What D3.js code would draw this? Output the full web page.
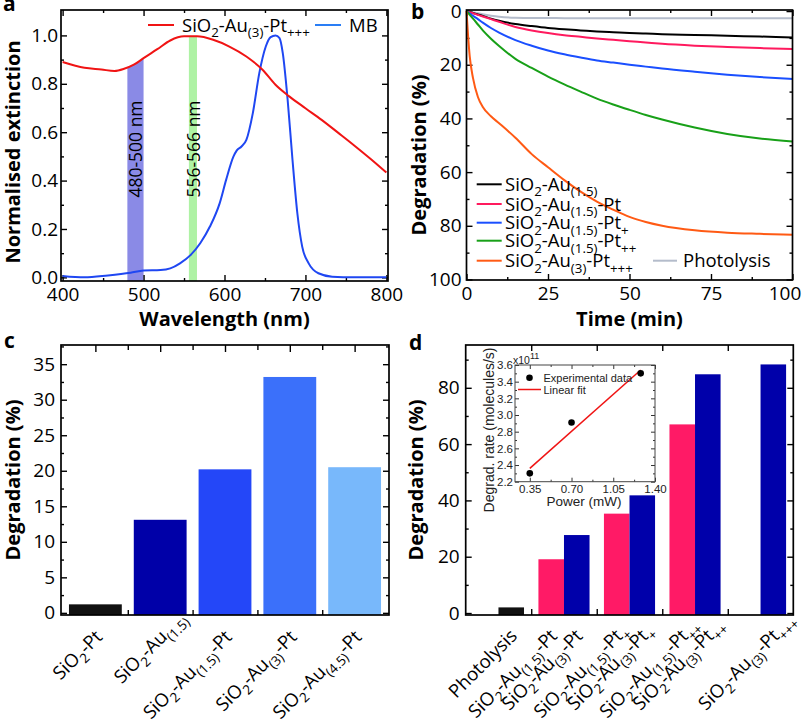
<!DOCTYPE html>
<html><head><meta charset="utf-8">
<script src="https://cdn.jsdelivr.net/npm/d3@7/dist/d3.min.js"></script>
<style>html,body{margin:0;padding:0;background:#fff;} svg{display:block;}</style>
</head><body>
<svg id="chart" width="805" height="721"></svg>
<script>
// ---------------- Panel a data ----------------
const aPtNm  = [400,427,448,464,476,488,500,517,533,550,566,586,606,627,647,663,680,700,720,741,761,781,800];
const aPtExt = [0.890,0.866,0.859,0.853,0.862,0.879,0.906,0.943,0.979,0.996,0.996,0.982,0.954,0.913,0.858,0.796,0.748,0.699,0.651,0.596,0.543,0.488,0.433];
const aMBNm  = [400,427,456,484,500,521,533,545,558,570,582,594,602,611,615,621,627,635,643,651,657,663,668,672,678,684,690,696,704,716,733,760,800];
const aMBExt = [0.006,0.0,0.008,0.019,0.028,0.030,0.037,0.058,0.092,0.141,0.210,0.306,0.403,0.499,0.524,0.541,0.568,0.679,0.844,0.954,0.993,1.0,0.989,0.927,0.734,0.486,0.265,0.127,0.058,0.017,0.003,0.0,0.0];
const aBandStart = [480, 556];
const aBandEnd   = [500, 566];
const aBandLabels = ["480-500 nm", "556-566 nm"];
const aLegend = ["SiO_{2}-Au_{(3)}-Pt_{+++}", "MB"];
const aXTicks = [400, 500, 600, 700, 800];
const aYTicks = [0, 0.2, 0.4, 0.6, 0.8, 1.0];

// ---------------- Panel b data ----------------
const bTime       = [0,0.5,1,2,3.5,5,7.5,10,15,20,25,30,35,40,45,50,55,60,70,80,90,100];
const bAu15       = [0,0.18,0.36,0.72,1.25,1.8,2.8,3.6,4.8,5.6,6.3,6.8,7.2,7.6,7.9,8.2,8.4,8.6,8.9,9.2,9.5,9.8];
const bAu15Pt     = [0,0.2,0.4,0.8,1.4,2.0,3.0,4.0,5.9,7.2,8.2,9.0,9.6,10.2,10.7,11.2,11.7,12.2,12.9,13.4,13.8,14.1];
const bAu15Pt1    = [0,0.45,0.9,1.8,3.0,4.3,6.3,8.0,10.8,12.9,14.7,16.1,17.3,18.4,19.2,20.0,20.7,21.4,22.6,23.7,24.6,25.3];
const bAu15Pt2    = [0,0.7,1.4,2.8,5.0,7.2,10.3,13.0,17.8,21.2,24.4,27.3,30.0,32.6,34.8,36.8,38.7,40.4,43.4,45.8,47.5,48.6];
const bAu3Pt3     = [0,9.5,17,25,32,35.7,39.2,41.8,47.2,53.3,58.2,63.0,67.3,71.0,74.0,76.7,78.6,80.0,81.7,82.6,83.0,83.3];
const bPhotolysis = [0,0.12,0.24,0.48,0.85,1.2,1.7,2.1,2.5,2.6,2.6,2.65,2.65,2.7,2.7,2.7,2.7,2.7,2.7,2.7,2.7,2.7];
const bSeriesLabels = ["SiO_{2}-Au_{(1.5)}", "SiO_{2}-Au_{(1.5)}-Pt", "SiO_{2}-Au_{(1.5)}-Pt_{+}", "SiO_{2}-Au_{(1.5)}-Pt_{++}", "SiO_{2}-Au_{(3)}-Pt_{+++}", "Photolysis"];
const bXTicks = [0, 25, 50, 75, 100];
const bYTicks = [0, 20, 40, 60, 80, 100];

// ---------------- Panel c data ----------------
const cCategories = ["SiO_{2}-Pt", "SiO_{2}-Au_{(1.5)}", "SiO_{2}-Au_{(1.5)}-Pt", "SiO_{2}-Au_{(3)}-Pt", "SiO_{2}-Au_{(4.5)}-Pt"];
const cValues = [1.2, 13.1, 20.2, 33.2, 20.5];
const cYTicks = [0, 5, 10, 15, 20, 25, 30, 35];

// ---------------- Panel d data ----------------
const dCategories = ["Photolysis", "SiO_{2}-Au_{(1.5)}-Pt", "SiO_{2}-Au_{(3)}-Pt", "SiO_{2}-Au_{(1.5)}-Pt_{+}", "SiO_{2}-Au_{(3)}-Pt_{+}", "SiO_{2}-Au_{(1.5)}-Pt_{++}", "SiO_{2}-Au_{(3)}-Pt_{++}", "SiO_{2}-Au_{(3)}-Pt_{+++}"];
const dGroups = ["g1", "g2", "g2", "g3", "g3", "g4", "g4", "g5"];
const dSeries = ["control", "Au1.5", "Au3", "Au1.5", "Au3", "Au1.5", "Au3", "Au3"];
const dValues = [2.0, 19.1, 27.7, 35.3, 41.8, 67.0, 84.8, 88.3];
const dYTicks = [0, 20, 40, 60, 80];

// ---------------- Inset data ----------------
const insetPower = [0.35, 0.70, 1.28];
const insetRate  = [2.30, 2.91, 3.50];
const insetFitPower = [0.35, 1.28];
const insetFitRate  = [2.36, 3.54];
const insetXTicks = [0.35, 0.70, 1.05, 1.40];
const insetYTicks = [2.2, 2.4, 2.6, 2.8, 3.0, 3.2, 3.4, 3.6];

// ---------------- styling ----------------
const FONT = "'Open Sans', sans-serif";
const ARIAL = "'Liberation Sans', Arial, sans-serif";
const TICK_FS = 19, TITLE_FS = 20, LEG_FS = 18.5, CAT_FS = 18.5, SUB = 0.72;
const svg = d3.select("#chart").attr("font-family", FONT);

function richText(t, markup, fs) {
  const re = /_\{([^}]*)\}|([^_]+)/g;
  let m, down = false; const sh = fs * 0.3;
  while ((m = re.exec(markup)) !== null) {
    const s = t.append("tspan");
    if (m[1] !== undefined) {
      s.text(m[1]).attr("font-size", fs * SUB).attr("class", "sub");
      if (!down) { s.attr("dy", sh); down = true; }
    } else {
      s.text(m[2]);
      if (down) { s.attr("dy", -sh); down = false; }
    }
  }
  return t;
}
function label(g, x, y, markup, fs) {
  const t = g.append("text").attr("x", x).attr("y", y).attr("font-size", fs).attr("fill", "#000");
  return richText(t, markup, fs);
}
function rotLabel(g, ax, ay, markup, fs) {
  const t = g.append("text").attr("font-size", fs).attr("text-anchor", "end").attr("fill", "#000");
  richText(t, markup, fs);
  const nodes = t.selectAll("tspan").nodes();
  const last = nodes[nodes.length - 1];
  let shift = 0;
  if (last && last.getAttribute("class") === "sub") shift = last.getComputedTextLength();
  t.attr("transform", `translate(${ax},${ay}) rotate(-45) translate(${shift},0)`);
}
function axis(g, fn, sc, vals, len, fmt, tr, pad, fs, cfg) {
  const a = fn(sc).tickValues(vals).tickSize(-len).tickPadding(pad).tickFormat(fmt || (() => ""));
  const gg = g.append("g").attr("transform", tr).call(a);
  gg.select(".domain").remove();
  gg.attr("font-family", null).attr("font-size", null);
  gg.selectAll(".tick line").attr("stroke", cfg.color || "#000").attr("stroke-width", cfg.tw || 1.4);
  gg.selectAll(".tick text").attr("font-size", fs).attr("fill", cfg.textColor || "#000");
  if (cfg.font) gg.attr("font-family", cfg.font);
  return gg;
}
function frame(g, x0, x1, y0, y1, cfg) {
  g.append("rect").attr("x", x0).attr("y", y1).attr("width", x1 - x0).attr("height", y0 - y1)
    .attr("fill", "none").attr("stroke", cfg.color || "#000").attr("stroke-width", cfg.fw || 1.7);
}
const mids = arr => d3.pairs(arr, (p, q) => (p + q) / 2);

// ================= Panel a =================
(function () {
  const g = svg.append("g");
  const x = d3.scaleLinear([398, 802], [61, 388]);
  const y = d3.scaleLinear([-0.015, 1.105], [281, 10]);
  const [X0, X1] = x.range(), [Y0, Y1] = y.range();
  const ptData = aPtNm.map((d, i) => [d, aPtExt[i]]);
  const mbData = aMBNm.map((d, i) => [d, aMBExt[i]]);

  const area = d3.area().x(d => x(d[0])).y0(Y0).y1(d => y(d[1])).curve(d3.curveMonotoneX);
  svg.append("defs").append("clipPath").attr("id", "underPt").append("path").attr("d", area(ptData));
  const bandColors = ["#8a8ae6", "#aef2a4"];
  const bands = g.append("g").attr("clip-path", "url(#underPt)");
  bands.selectAll("rect").data(aBandStart).join("rect")
    .attr("x", (d) => x(d)).attr("width", (d, i) => x(aBandEnd[i]) - x(d))
    .attr("y", Y1).attr("height", Y0 - Y1).attr("fill", (d, i) => bandColors[i]);

  const cfg = {};
  axis(g, d3.axisBottom, x, aXTicks, 6, d3.format("d"), `translate(0,${Y0})`, 7, TICK_FS, cfg);
  axis(g, d3.axisBottom, x, mids(aXTicks), 3, null, `translate(0,${Y0})`, 7, TICK_FS, cfg);
  axis(g, d3.axisTop, x, aXTicks, 6, null, `translate(0,${Y1})`, 7, TICK_FS, cfg);
  axis(g, d3.axisTop, x, mids(aXTicks), 3, null, `translate(0,${Y1})`, 7, TICK_FS, cfg);
  axis(g, d3.axisLeft, y, aYTicks, 6, d3.format(".1f"), `translate(${X0},0)`, 3, TICK_FS, cfg);
  axis(g, d3.axisLeft, y, mids(aYTicks), 3, null, `translate(${X0},0)`, 3, TICK_FS, cfg);
  axis(g, d3.axisRight, y, aYTicks, 6, null, `translate(${X1},0)`, 3, TICK_FS, cfg);
  axis(g, d3.axisRight, y, mids(aYTicks), 3, null, `translate(${X1},0)`, 3, TICK_FS, cfg);

  aBandLabels.forEach((txt, i) => {
    const cx = x((aBandStart[i] + aBandEnd[i]) / 2);
    g.append("text").attr("transform", `translate(${cx},149) rotate(-90)`)
      .attr("text-anchor", "middle").attr("dominant-baseline", "central")
      .attr("font-size", 17.5).attr("fill", "#000").text(txt);
  });

  const line = d3.line().x(d => x(d[0])).y(d => y(d[1])).curve(d3.curveMonotoneX);
  g.append("path").attr("d", line(mbData)).attr("fill", "none").attr("stroke", "#1f47f2").attr("stroke-width", 2);
  g.append("path").attr("d", line(ptData)).attr("fill", "none").attr("stroke", "#f01414").attr("stroke-width", 2);

  // legend
  const lc = ["#f01414", "#2a7ef5"], lx = [148, 315];
  aLegend.forEach((t, i) => {
    g.append("line").attr("x1", lx[i]).attr("x2", lx[i] + 26).attr("y1", 25).attr("y2", 25).attr("stroke", lc[i]).attr("stroke-width", 2);
    label(g, lx[i] + 34, 31.5, t, LEG_FS);
  });

  frame(g, X0, X1, Y0, Y1, {});
  g.append("text").attr("x", (X0 + X1) / 2).attr("y", 326).attr("text-anchor", "middle")
    .attr("font-size", TITLE_FS).attr("font-weight", "bold").text("Wavelength (nm)");
  g.append("text").attr("transform", "translate(12,152) rotate(-90)").attr("text-anchor", "middle")
    .attr("dominant-baseline", "central").attr("font-size", TITLE_FS).attr("font-weight", "bold").text("Normalised extinction");
  g.append("text").attr("x", 3).attr("y", 11).attr("font-size", 21).attr("font-weight", "bold").text("a");
})();

// ================= Panel b =================
(function () {
  const g = svg.append("g");
  const x = d3.scaleLinear([0, 100], [466.5, 792.5]);
  const y = d3.scaleLinear([-0.4, 100.2], [10, 280]);
  const X0 = 466.5, X1 = 792.5, Y0 = 280, Y1 = 10;
  const cfg = {};
  const bx = axis(g, d3.axisBottom, x, bXTicks, 6, d3.format("d"), `translate(0,${Y0})`, 7, TICK_FS, cfg);
  bx.selectAll(".tick text").filter(d => d === 100).attr("dx", -8);
  axis(g, d3.axisBottom, x, mids(bXTicks), 3, null, `translate(0,${Y0})`, 7, TICK_FS, cfg);
  axis(g, d3.axisTop, x, bXTicks, 6, null, `translate(0,${Y1})`, 7, TICK_FS, cfg);
  axis(g, d3.axisTop, x, mids(bXTicks), 3, null, `translate(0,${Y1})`, 7, TICK_FS, cfg);
  axis(g, d3.axisLeft, y, bYTicks, 6, d3.format("d"), `translate(${X0},0)`, 5, TICK_FS, cfg);
  axis(g, d3.axisLeft, y, mids(bYTicks), 3, null, `translate(${X0},0)`, 5, TICK_FS, cfg);
  axis(g, d3.axisRight, y, bYTicks, 6, null, `translate(${X1},0)`, 5, TICK_FS, cfg);
  axis(g, d3.axisRight, y, mids(bYTicks), 3, null, `translate(${X1},0)`, 5, TICK_FS, cfg);

  const series = [bPhotolysis, bAu15, bAu15Pt, bAu15Pt1, bAu15Pt2, bAu3Pt3];
  const colors = ["#b4bccb", "#000000", "#ff1a5e", "#1a4fff", "#18a018", "#ff5a14"];
  const line = d3.line().x((d, i) => x(bTime[i])).y(d => y(d)).curve(d3.curveMonotoneX);
  series.forEach((s, i) => {
    g.append("path").attr("d", line(s)).attr("fill", "none").attr("stroke", colors[i]).attr("stroke-width", 2);
  });

  const legColors = ["#000000", "#ff1a5e", "#1a4fff", "#18a018", "#ff5a14"];
  const rows = [184.3, 204, 222.7, 240.7, 260.7];
  legColors.forEach((c, i) => {
    g.append("line").attr("x1", 476.7).attr("x2", 501.7).attr("y1", rows[i]).attr("y2", rows[i]).attr("stroke", c).attr("stroke-width", 2);
    label(g, 505, rows[i] + 6.5, bSeriesLabels[i], LEG_FS);
  });
  g.append("line").attr("x1", 653).attr("x2", 677).attr("y1", 260.7).attr("y2", 260.7).attr("stroke", "#b4bccb").attr("stroke-width", 2);
  label(g, 683, 267.2, bSeriesLabels[5], LEG_FS);

  frame(g, X0, X1, Y0, Y1, {});
  g.append("text").attr("x", (X0 + X1) / 2).attr("y", 326).attr("text-anchor", "middle")
    .attr("font-size", TITLE_FS).attr("font-weight", "bold").text("Time (min)");
  g.append("text").attr("transform", "translate(418,155) rotate(-90)").attr("text-anchor", "middle")
    .attr("dominant-baseline", "central").attr("font-size", TITLE_FS).attr("font-weight", "bold").text("Degradation (%)");
  g.append("text").attr("x", 411).attr("y", 18.5).attr("font-size", 21).attr("font-weight", "bold").text("b");
})();

// ================= Panel c =================
(function () {
  const g = svg.append("g");
  const x = d3.scaleBand(cCategories, [61, 389]).paddingInner(0.185).paddingOuter(0.123);
  const y = d3.scaleLinear([-0.3, 37.7], [615, 345]);
  const X0 = 61, X1 = 389, Y0 = 615, Y1 = 345;
  const cfg = {};
  const centers = cCategories.map(c => x(c) + x.bandwidth() / 2);
  const bounds = mids(centers);
  const px = d3.scaleIdentity();
  axis(g, d3.axisBottom, px, centers, 7, null, `translate(0,${Y0})`, 8, TICK_FS, cfg);
  axis(g, d3.axisBottom, px, bounds, 5, null, `translate(0,${Y0})`, 8, TICK_FS, cfg);
  axis(g, d3.axisTop, px, centers, 7, null, `translate(0,${Y1})`, 8, TICK_FS, cfg);
  axis(g, d3.axisTop, px, bounds, 5, null, `translate(0,${Y1})`, 8, TICK_FS, cfg);
  axis(g, d3.axisLeft, y, cYTicks, 6, d3.format("d"), `translate(${X0},0)`, 6, TICK_FS, cfg);
  axis(g, d3.axisLeft, y, mids(cYTicks.concat([40])), 3, null, `translate(${X0},0)`, 6, TICK_FS, cfg);
  axis(g, d3.axisRight, y, cYTicks, 6, null, `translate(${X1},0)`, 6, TICK_FS, cfg);
  axis(g, d3.axisRight, y, mids(cYTicks.concat([40])), 3, null, `translate(${X1},0)`, 6, TICK_FS, cfg);

  const colors = ["#111111", "#0000a8", "#2447f8", "#3b70fa", "#78b8fb"];
  g.selectAll("rect.bar").data(cValues).join("rect").attr("class", "bar")
    .attr("x", (d, i) => x(cCategories[i])).attr("width", x.bandwidth())
    .attr("y", d => y(d)).attr("height", d => Y0 - y(d)).attr("fill", (d, i) => colors[i]);

  cCategories.forEach((c, i) => rotLabel(g, centers[i] + 8, 638, c, CAT_FS));

  frame(g, X0, X1, Y0, Y1, {});
  g.append("text").attr("transform", "translate(12,480) rotate(-90)").attr("text-anchor", "middle")
    .attr("dominant-baseline", "central").attr("font-size", TITLE_FS).attr("font-weight", "bold").text("Degradation (%)");
  g.append("text").attr("x", 4).attr("y", 348).attr("font-size", 21).attr("font-weight", "bold").text("c");
})();

// ================= Panel d =================
(function () {
  const g = svg.append("g");
  const groupIds = Array.from(new Set(dGroups));
  const xg = d3.scaleBand(groupIds, [465.7, 793.3]).paddingInner(0.22).paddingOuter(0.11);
  const xs = d3.scaleBand(["Au1.5", "Au3"], [0, xg.bandwidth()]);
  const slot = s => (s === "Au1.5" ? "Au1.5" : "Au3");
  const y = d3.scaleLinear([-0.7, 95.2], [615, 345]);
  const X0 = 465.7, X1 = 793.3, Y0 = 615, Y1 = 345;
  const cfg = {};
  const gcent = groupIds.map(id => xg(id) + xg.bandwidth() / 2);
  const bounds = mids(gcent);
  const px = d3.scaleIdentity();
  axis(g, d3.axisBottom, px, bounds, 6, null, `translate(0,${Y0})`, 8, TICK_FS, cfg);
  axis(g, d3.axisTop, px, bounds, 6, null, `translate(0,${Y1})`, 8, TICK_FS, cfg);
  axis(g, d3.axisLeft, y, dYTicks, 6, d3.format("d"), `translate(${X0},0)`, 6, TICK_FS, cfg);
  axis(g, d3.axisLeft, y, mids(dYTicks.concat([100])), 3, null, `translate(${X0},0)`, 6, TICK_FS, cfg);
  axis(g, d3.axisRight, y, dYTicks, 6, null, `translate(${X1},0)`, 6, TICK_FS, cfg);
  axis(g, d3.axisRight, y, mids(dYTicks.concat([100])), 3, null, `translate(${X1},0)`, 6, TICK_FS, cfg);

  const colorOf = { "control": "#111111", "Au1.5": "#ff1a66", "Au3": "#0000aa" };
  const bx = i => xg(dGroups[i]) + xs(slot(dSeries[i]));
  g.selectAll("rect.bar").data(dValues).join("rect").attr("class", "bar")
    .attr("x", (d, i) => bx(i)).attr("width", xs.bandwidth())
    .attr("y", d => y(d)).attr("height", d => Y0 - y(d)).attr("fill", (d, i) => colorOf[dSeries[i]]);

  dCategories.forEach((c, i) => rotLabel(g, bx(i) + xs.bandwidth() / 2 + 7, 637, c, CAT_FS));

  frame(g, X0, X1, Y0, Y1, {});
  g.append("text").attr("transform", "translate(415,480) rotate(-90)").attr("text-anchor", "middle")
    .attr("dominant-baseline", "central").attr("font-size", TITLE_FS).attr("font-weight", "bold").text("Degradation (%)");
  g.append("text").attr("x", 409).attr("y", 350).attr("font-size", 21).attr("font-weight", "bold").text("d");

  // ---------- inset ----------
  const ig = g.append("g").attr("font-family", ARIAL);
  const ix = d3.scaleLinear([0.226, 1.40], [515, 655]);
  const iy = d3.scaleLinear([2.2, 3.6], [481.7, 365]);
  const IX0 = 515, IX1 = 655, IY0 = 481.7, IY1 = 365;
  ig.append("rect").attr("x", IX0).attr("y", IY1).attr("width", IX1 - IX0).attr("height", IY0 - IY1).attr("fill", "#fff");
  const icfg = { color: "#333", tw: 1, textColor: "#222", font: ARIAL };
  const ixMinor = mids(insetXTicks);
  axis(ig, d3.axisBottom, ix, insetXTicks, 4, d3.format(".2f"), `translate(0,${IY0})`, 3, 11.5, icfg);
  axis(ig, d3.axisBottom, ix, ixMinor, 2, null, `translate(0,${IY0})`, 3, 11.5, icfg);
  axis(ig, d3.axisTop, ix, insetXTicks, 4, null, `translate(0,${IY1})`, 3, 11.5, icfg);
  axis(ig, d3.axisTop, ix, ixMinor, 2, null, `translate(0,${IY1})`, 3, 11.5, icfg);
  axis(ig, d3.axisLeft, iy, insetYTicks, 4, d3.format(".1f"), `translate(${IX0},0)`, 2, 11.5, icfg);
  axis(ig, d3.axisLeft, iy, mids(insetYTicks), 2, null, `translate(${IX0},0)`, 2, 11.5, icfg);
  axis(ig, d3.axisRight, iy, insetYTicks, 4, null, `translate(${IX1},0)`, 2, 11.5, icfg);
  axis(ig, d3.axisRight, iy, mids(insetYTicks), 2, null, `translate(${IX1},0)`, 2, 11.5, icfg);
  ig.append("line").attr("x1", ix(insetFitPower[0])).attr("y1", iy(insetFitRate[0]))
    .attr("x2", ix(insetFitPower[1])).attr("y2", iy(insetFitRate[1])).attr("stroke", "#f01414").attr("stroke-width", 1.5);
  ig.selectAll("circle.pt").data(insetPower).join("circle").attr("class", "pt")
    .attr("cx", d => ix(d)).attr("cy", (d, i) => iy(insetRate[i])).attr("r", 3.3).attr("fill", "#000");
  ig.append("rect").attr("x", IX0).attr("y", IY1).attr("width", IX1 - IX0).attr("height", IY0 - IY1)
    .attr("fill", "none").attr("stroke", "#444").attr("stroke-width", 1);
  // legend
  ig.append("circle").attr("cx", 529.5).attr("cy", 377.7).attr("r", 3.3).attr("fill", "#000");
  ig.append("text").attr("x", 543.5).attr("y", 381.5).attr("font-size", 11).attr("fill", "#222").text("Experimental data");
  ig.append("line").attr("x1", 518).attr("x2", 541).attr("y1", 389.5).attr("y2", 389.5).attr("stroke", "#f01414").attr("stroke-width", 1.5);
  ig.append("text").attr("x", 543.5).attr("y", 393.5).attr("font-size", 11).attr("fill", "#222").text("Linear fit");
  const sci = ig.append("text").attr("x", 513).attr("y", 364).attr("font-size", 10.5).attr("fill", "#222");
  sci.append("tspan").text("x10");
  sci.append("tspan").attr("dy", -5).attr("font-size", 9).text("11");
  ig.append("text").attr("x", 584).attr("y", 506).attr("text-anchor", "middle")
    .attr("font-size", 13.5).attr("fill", "#222").text("Power (mW)");
  ig.append("text").attr("transform", "translate(489,430) rotate(-90)").attr("text-anchor", "middle")
    .attr("dominant-baseline", "central").attr("font-size", 14).attr("fill", "#222").text("Degrad. rate (molecules/s)");
})();
</script>
</body></html>
